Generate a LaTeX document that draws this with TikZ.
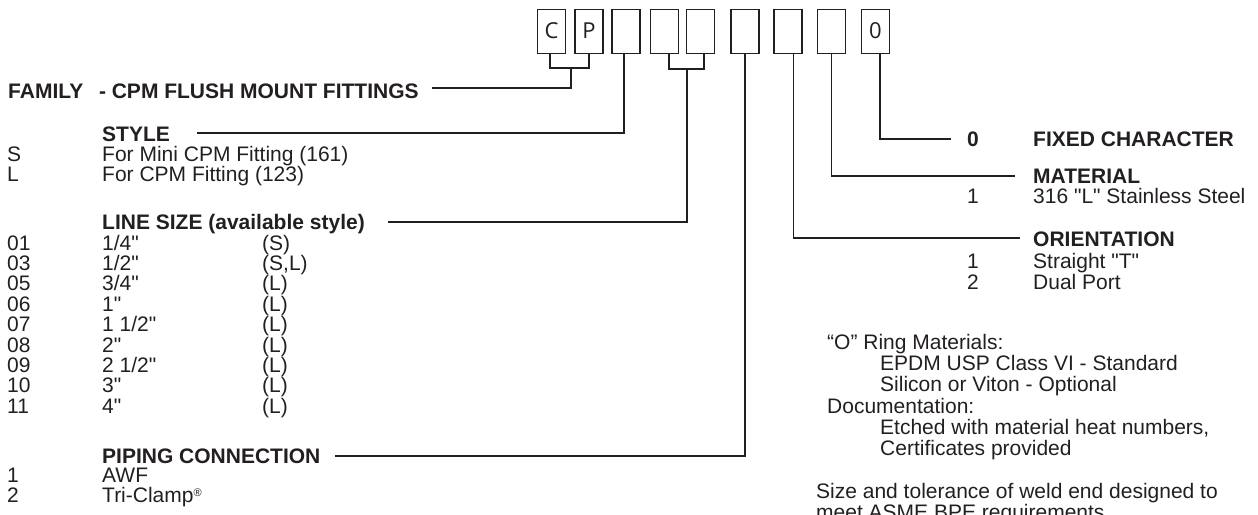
\documentclass[tikz,border=0pt]{standalone}
\usepackage{fontspec}
\setmainfont{Liberation Sans}[Ligatures=TeXOff]
\newfontfamily\boxfont{Open Sans}
\definecolor{ink}{HTML}{231F20}
\newcommand{\inch}{\char34\relax}
\begin{document}
\begin{tikzpicture}[x=1pt,y=-1pt,
  txt/.style={anchor=base west,inner sep=0pt,text=ink,font=\fontsize{21}{21}\selectfont},
  hd/.style={anchor=base west,inner sep=0pt,text=ink,font=\fontsize{21}{21}\selectfont\bfseries},
  cbox/.style={draw=ink,line width=1.3pt,minimum width=28pt,minimum height=44.5pt,inner sep=0pt,text=ink,font=\boxfont\fontsize{22}{22}\selectfont},
  conn/.style={draw=ink,line width=1.3pt}]
\useasboundingbox (0,0) rectangle (1258,514);
\clip (0,0) rectangle (1258,514);
% code boxes
\node[cbox] (b1) at (551.5,31.5) {\raisebox{1.5pt}{C}};
\node[cbox] (b2) at (589,31.5) {\raisebox{1.5pt}{P}};
\node[cbox] (b3) at (626,31.5) {};
\node[cbox] (b4) at (664.5,31.5) {};
\node[cbox] (b5) at (700.5,31.5) {};
\node[cbox] (b6) at (745,31.5) {};
\node[cbox] (b7) at (788,31.5) {};
\node[cbox] (b8) at (831.5,31.5) {};
\node[cbox] (b9) at (875.5,31.5) {\raisebox{1.5pt}{0}};
% line ends
\coordinate (cpmid) at (571,68);
\coordinate (famend) at (432,88);
\coordinate (styend) at (197,133);
\coordinate (lsmid) at (687,69);
\coordinate (lsend) at (388,222);
\coordinate (pipend) at (335,456);
\coordinate (fixend) at (951,139);
\coordinate (matend) at (1015,176);
\coordinate (oriend) at (1020,238);
% connectors
\draw[conn] ([xshift=-1.5pt]b1.south) |- (cpmid) -| (b2.south);
\draw[conn] (cpmid) |- (famend);
\draw[conn] ([xshift=-2pt]b3.south) |- (styend);
\draw[conn] ([xshift=4.5pt]b4.south) |- (lsmid) -| ([xshift=3.5pt]b5.south);
\draw[conn] (lsmid) |- (lsend);
\draw[conn] (b6.south) |- (pipend);
\draw[conn] ([xshift=5.5pt]b7.south) |- (oriend);
\draw[conn] (b8.south) |- (matend);
\draw[conn] ([xshift=4.5pt]b9.south) |- (fixend);
% left column
\node[hd] (fam) at (8,98.5) {FAMILY\hspace{0.75em}- CPM FLUSH MOUNT FITTINGS};
\node[hd] (sty) at (102,141.5) {STYLE};
\node[txt] (sS) at (7,161.5) {S};
\node[txt] (sSd) at (102,161.5) {For Mini CPM Fitting (161)};
\node[txt] (sL) at (7,181.5) {L};
\node[txt] (sLd) at (102,181.5) {For CPM Fitting (123)};
\node[hd] (ls) at (102,229.5) {LINE SIZE (available style)};
\foreach \c/\s/\t [count=\i from 0] in {{01/1\slash4\inch/(S)},{03/1\slash2\inch/(S,L)},{05/3\slash4\inch/(L)},{06/1\inch/(L)},{07/1 1\slash2\inch/(L)},{08/2\inch/(L)},{09/2 1\slash2\inch/(L)},{10/3\inch/(L)},{11/4\inch/(L)}}{
  \node[txt] (rc\i) at (7,{250+20.4*\i}) {\c};
  \node[txt] (rs\i) at (102,{250+20.4*\i}) {\s};
  \node[txt] (rt\i) at (262,{250+20.4*\i}) {\t};
}
\node[hd] (pip) at (102,463.5) {PIPING CONNECTION};
\node[txt] (p1) at (7,482.5) {1};
\node[txt] (p1d) at (102,482.5) {AWF};
\node[txt] (p2) at (7,502.5) {2};
\node[txt] (p2d) at (102,502.5) {Tri-Clamp{\fontsize{11}{11}\selectfont\raisebox{6pt}{®}}};
% right column
\node[hd] (f0) at (967,146.5) {0};
\node[hd] (fix) at (1033,146.5) {FIXED CHARACTER};
\node[hd] (mat) at (1033,183.5) {MATERIAL};
\node[txt] (m1) at (967,203.5) {1};
\node[txt] (m1d) at (1033,203.5) {316 \inch L\inch\ Stainless Steel};
\node[hd] (ori) at (1033,246.5) {ORIENTATION};
\node[txt] (o1) at (967,268.5) {1};
\node[txt] (o1d) at (1033,268.5) {Straight \inch T\inch};
\node[txt] (o2) at (967,289.5) {2};
\node[txt] (o2d) at (1033,289.5) {Dual Port};
% notes
\node[txt] (n1) at (827,349.5) {“O” Ring Materials:};
\node[txt] (n2) at (880,370.5) {EPDM USP Class VI - Standard};
\node[txt] (n3) at (880,391.5) {Silicon or Viton - Optional};
\node[txt] (n4) at (827,413.5) {Documentation:};
\node[txt] (n5) at (880,434.5) {Etched with material heat numbers,};
\node[txt] (n6) at (880,455.5) {Certificates provided};
\node[txt] (n7) at (816,498.5) {Size and tolerance of weld end designed to};
\node[txt] (n8) at (816,519.5) {meet ASME BPE requirements};
\end{tikzpicture}
\end{document}
